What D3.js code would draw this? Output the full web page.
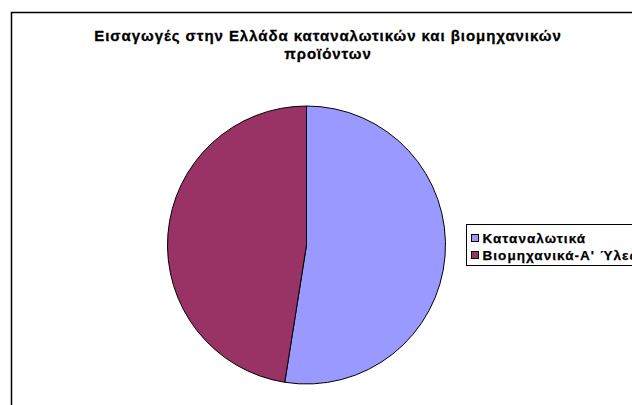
<!DOCTYPE html>
<html>
<head>
<meta charset="utf-8">
<title>Εισαγωγές</title>
<script src="https://cdn.jsdelivr.net/npm/d3@7"></script>
<style>
  body { margin: 0; background: #fff; }
  svg { display: block; font-family: "Liberation Sans", Arial, sans-serif; }
</style>
</head>
<body>
<div id="chart"></div>
<script>
// data
let categories = ["Καταναλωτικά", "Βιομηχανικά-Α' Ύλες"];
let values = [52.5, 47.5];
let colors = ["#9999ff", "#993366"];
let titleLines = ["Εισαγωγές στην Ελλάδα καταναλωτικών και βιομηχανικών", "προϊόντων"];

let W = 632, H = 405;
let svg = d3.select("#chart").append("svg")
    .attr("width", W)
    .attr("height", H);

// chart area frame (runs off the right and bottom edges)
svg.append("rect")
    .attr("x", 11.5).attr("y", 12.5)
    .attr("width", 700).attr("height", 500)
    .attr("fill", "white")
    .attr("stroke", "black")
    .attr("stroke-width", 1.5);

// title
svg.selectAll("text.title")
    .data(titleLines)
    .enter()
    .append("text")
    .attr("class", "title")
    .attr("x", 328)
    .attr("y", (d, i) => 41 + i * 18)
    .attr("text-anchor", "middle")
    .attr("font-size", 15)
    .attr("font-weight", "bold")
    .attr("letter-spacing", 0.95)
    .attr("stroke", "black")
    .attr("stroke-width", 0.3)
    .text(d => d);

// pie
let cx = 306.5, cy = 245, r = 139;
let pie = d3.pie().sort(null)(values);
let arc = d3.arc().innerRadius(0).outerRadius(r);

svg.append("g")
    .attr("transform", "translate(" + cx + "," + cy + ")")
    .selectAll("path")
    .data(pie)
    .enter()
    .append("path")
    .attr("d", arc)
    .attr("fill", (d, i) => colors[i])
    .attr("stroke", "black")
    .attr("stroke-width", 1);

// legend
let lg = svg.append("g");
lg.append("rect")
    .attr("x", 466.5).attr("y", 224.5)
    .attr("width", 200).attr("height", 41)
    .attr("fill", "white")
    .attr("stroke", "black")
    .attr("stroke-width", 1);

let items = lg.selectAll("g.item")
    .data(categories)
    .enter()
    .append("g")
    .attr("class", "item")
    .attr("transform", (d, i) => "translate(471," + (238 + i * 17) + ")");

items.append("rect")
    .attr("x", 0.5).attr("y", -3.5)
    .attr("width", 7).attr("height", 7)
    .attr("fill", (d, i) => colors[i])
    .attr("stroke", "black")
    .attr("stroke-width", 1);

items.append("text")
    .attr("x", 11.5)
    .attr("y", 4.5)
    .attr("font-size", 13.5)
    .attr("font-weight", "bold")
    .attr("letter-spacing", 1.05)
    .attr("stroke", "black")
    .attr("stroke-width", 0.25)
    .text(d => d);
</script>
</body>
</html>
